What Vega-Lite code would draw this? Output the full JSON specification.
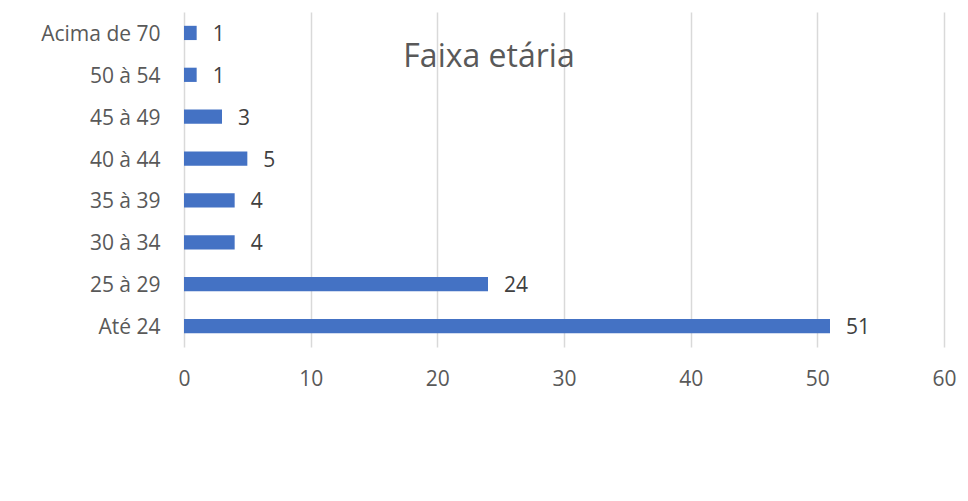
{
  "$schema": "https://vega.github.io/schema/vega-lite/v6.json",
  "autosize": {"type": "none"},
  "width": 760,
  "height": 335,
  "padding": {"left": 184, "top": 12, "right": 24, "bottom": 154},
  "background": "white",
  "config": {"view": {"stroke": null}, "font": "Open Sans"},
  "title": {
    "text": "Faixa etária",
    "font": "Open Sans",
    "fontSize": 32,
    "fontWeight": "normal",
    "color": "#595959",
    "anchor": "middle",
    "baseline": "alphabetic",
    "offset": 0,
    "dx": -75,
    "dy": 87
  },
  "data": {
    "values": [
      {"faixa": "Acima de 70", "n": 1},
      {"faixa": "50 à 54", "n": 1},
      {"faixa": "45 à 49", "n": 3},
      {"faixa": "40 à 44", "n": 5},
      {"faixa": "35 à 39", "n": 4},
      {"faixa": "30 à 34", "n": 4},
      {"faixa": "25 à 29", "n": 24},
      {"faixa": "Até 24", "n": 51}
    ]
  },
  "encoding": {
    "y": {
      "field": "faixa",
      "type": "nominal",
      "sort": ["Acima de 70", "50 à 54", "45 à 49", "40 à 44", "35 à 39", "30 à 34", "25 à 29", "Até 24"],
      "scale": {"paddingInner": 0.66, "paddingOuter": 0.33},
      "axis": {
        "title": null,
        "domain": false,
        "ticks": false,
        "grid": false,
        "labelFont": "Open Sans",
        "labelFontSize": 21,
        "labelColor": "#595959",
        "labelPadding": 24,
        "labelOffset": 2
      }
    },
    "x": {
      "field": "n",
      "type": "quantitative",
      "scale": {"domain": [0, 60], "nice": false},
      "axis": {
        "title": null,
        "values": [0, 10, 20, 30, 40, 50, 60],
        "domain": false,
        "ticks": false,
        "grid": true,
        "gridColor": "#d9d9d9",
        "gridWidth": 1.5,
        "labelFont": "Open Sans",
        "labelFontSize": 21,
        "labelColor": "#595959",
        "labelPadding": 21,
        "labelFlush": false
      }
    }
  },
  "layer": [
    {"mark": {"type": "bar", "color": "#4472C4"}},
    {
      "mark": {
        "type": "text",
        "align": "left",
        "baseline": "middle",
        "dx": 16,
        "dy": 2,
        "font": "Open Sans",
        "fontSize": 21,
        "color": "#404040"
      },
      "encoding": {"text": {"field": "n", "type": "quantitative"}}
    }
  ]
}
